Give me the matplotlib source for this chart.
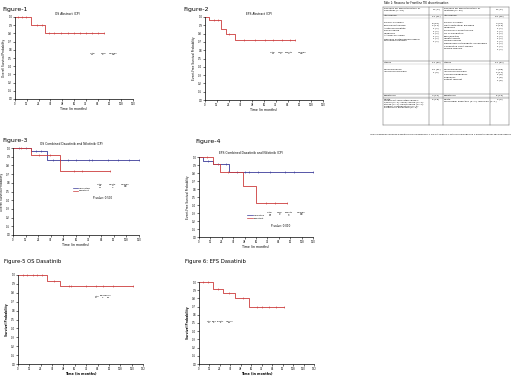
import matplotlib
matplotlib.use("Agg")
import matplotlib.pyplot as plt

W, H = 520, 377
RED = "#cc3a3a"
BLUE = "#3a3a99"

# Kaplan-Meier steps: (drop times, survival after each drop), end of follow-up, censor times
fig1_t = [0, 16, 31]
fig1_s = [1.0, 0.9, 0.8]
fig1_end = 91
fig1_cens = [3, 7, 11, 22, 27, 35, 40, 47, 54, 60, 66, 72, 78, 84, 91]

fig2_t = [0, 4, 16, 21, 31]
fig2_s = [1.0, 0.96, 0.86, 0.80, 0.72]
fig2_end = 92
fig2_cens = [9, 13, 24, 40, 51, 61, 69, 78, 86, 92]

fig3_unrel_t = [0, 17, 32]
fig3_unrel_s = [1.0, 0.97, 0.866]
fig3_unrel_end = 120
fig3_unrel_cens = [6, 12, 22, 27, 38, 45, 52, 60, 72, 75, 90, 100, 110, 120]
fig3_res_t = [0, 17, 45]
fig3_res_s = [1.0, 0.92, 0.735]
fig3_res_end = 92
fig3_res_cens = [8, 25, 35, 58, 66, 92]

fig4_unrel_t = [0, 4, 15, 32]
fig4_unrel_s = [1.0, 0.945, 0.91, 0.81]
fig4_unrel_end = 120
fig4_unrel_cens = [9, 20, 28, 40, 48, 53, 62, 75, 90, 100, 120]
fig4_res_t = [0, 15, 22, 46, 60]
fig4_res_s = [1.0, 0.91, 0.81, 0.64, 0.43]
fig4_res_end = 93
fig4_res_cens = [8, 30, 70, 80, 93]

fig5_t = [0, 31, 44]
fig5_s = [1.0, 0.937, 0.877]
fig5_end = 121
fig5_cens = [5, 10, 16, 20, 25, 38, 54, 56, 72, 82, 90, 100, 121]

fig6_t = [0, 16, 28, 41, 57]
fig6_s = [1.0, 0.92, 0.866, 0.805, 0.69]
fig6_end = 97
fig6_cens = [5, 10, 22, 35, 50, 66, 72, 80, 88, 97]

# Table 1 content
tab_title = "Table 1: Reasons for Frontline TKI discontinuation"
tab_head = ["Reasons for discontinuation of\ndasatinib (n=34)", "N (%)",
            "Reasons for discontinuation of\nnilotinib (n=33)", "N (%)"]
das_intol = ("Intolerance", "14 (41)")
das_intol_items = ["Pleural effusion*", "Thrombocytopenia", "Acute pancreatitis", "Renal failure",
                   "Headache", "Arterial occlusion", "Nervous System/Neurological", "Pericardial effusion"]
das_intol_vals = ["8 (57)", "2 (14)", "1 (7)", "1 (7)", "1 (7)", "1 (7)", "1 (7)", "1 (7)"]
nil_intol = ("Intolerance", "15 (45)")
nil_intol_items = ["Pleural effusion", "Gastrointestinal bleeding", "Headache", "Pulmonary hypertension",
                   "QT prolongation", "Rash/pruritus", "Hepatotoxicity", "Hyperglycemia",
                   "Depression of thoughts, unspecified", "Congestive heart failure", "Muscle spasms"]
nil_intol_vals = ["4 (27)", "2 (13)", "1 (7)", "1 (7)", "1 (7)", "1 (7)", "1 (7)", "1 (7)",
                  "1 (7)", "1 (7)", "1 (7)"]
das_other = ("Others", "11 (32)")
das_other_items = ["Noncompliance", "Insurance problem"]
das_other_vals = ["10 (91)", "1 (9)"]
nil_other = ("Others", "12 (37)")
nil_other_items = ["Noncompliance", "Insurance problem", "Second malignancy", "Pregnancy", "Patient request"]
nil_other_vals = ["7 (58)", "2 (17)", "1 (8)", "1 (8)", "1 (8)"]
das_resist = ("Resistance", "4 (12)")
nil_resist = ("Resistance", "5 (15)")
das_death = ("Death\nTreatment unrelated causes:\nSepsis (n=1), renal failure (n=1),\nstroke (n=1), heart failure (n=1),\nsurgical complications (n=1),\npulmonary embolism (n=1)", "6 (18)")
nil_death = ("Death\nMyocardial infarction (n=1), unknown (n=1)", "2 (6)")
tab_note = "*Pleural effusion includes 8 dasatinib pleural effusions, 1 did not relapse, 1 with re-challenge and 1 discontinued for adverse reasons"

fig = plt.figure(figsize=(W / 100, H / 100), dpi=100)


def add_ax(l, t, r, b):
    return fig.add_axes([l / W, 1 - b / H, (r - l) / W, (b - t) / H])


def style(ax, xmax, ylabel, bold=False):
    ax.set_xlim(0, xmax)
    ax.set_ylim(0, 1.0)
    ax.set_xticks(range(0, xmax + 1, 12))
    ax.set_yticks([i / 10 for i in range(11)])
    ax.set_yticklabels([f"{i / 10:.1f}" for i in range(11)])
    for s in ["top", "right"]:
        ax.spines[s].set_visible(False)
    for s in ["left", "bottom"]:
        ax.spines[s].set_linewidth(0.5)
    ax.tick_params(labelsize=1.8, length=1.2, width=0.4, pad=0.8)
    w = "bold" if bold else "normal"
    ax.set_xlabel("Time (in months)", fontsize=2.3, labelpad=1, fontweight=w)
    ax.set_ylabel(ylabel, fontsize=2.1, labelpad=1.5, fontweight=w)


def km(ax, t, s, end, cens, color):
    ax.step(t + [end], s + [s[-1]], where="post", color=color, lw=0.6, clip_on=False)
    cy = []
    for c in cens:
        v = s[0]
        for ti, si in zip(t, s):
            if c >= ti:
                v = si
        cy.append(v)
    ax.plot(cens, cy, ls="none", marker="|", ms=1.6, mew=0.4, color=color, clip_on=False)


def stats(ax, xs, y, cols, fs=1.7):
    for x, (h, v) in zip(xs, cols):
        ax.text(x, y, h + "\n" + v, fontsize=fs, ha="center", va="top", linespacing=1.1)


# Figure 1
fig.text(2 / W, 1 - 9 / H, "Figure-1", fontsize=4.5, va="center")
ax1 = add_ax(15, 17, 133, 99)
style(ax1, 120, "Overall Survival Probability")
km(ax1, fig1_t, fig1_s, fig1_end, fig1_cens, RED)
ax1.text(53, 1.03, "OS Abstract (CP)", fontsize=2.2, ha="center")
stats(ax1, [79, 89.5, 100], 0.56, [("Total", "11"), ("Died", "2"), ("Median", "NR")])

# Figure 2
fig.text(183 / W, 1 - 9 / H, "Figure-2", fontsize=4.5, va="center")
ax2 = add_ax(205, 17, 323, 100)
style(ax2, 120, "Event-Free Survival Probability")
km(ax2, fig2_t, fig2_s, fig2_end, fig2_cens, RED)
ax2.text(55, 1.03, "EFS Abstract (CP)", fontsize=2.2, ha="center")
stats(ax2, [69, 76.5, 85, 98.5], 0.58, [("Total", "11"), ("Died", "2"), ("Events", "3"), ("Median", "NR")])

# Figure 3
fig.text(2 / W, 1 - 140 / H, "Figure-3", fontsize=4.5, va="center")
ax3 = add_ax(13, 148, 139, 235)
style(ax3, 120, "Overall Survival Probability")
km(ax3, fig3_unrel_t, fig3_unrel_s, fig3_unrel_end, fig3_unrel_cens, BLUE)
km(ax3, fig3_res_t, fig3_res_s, fig3_res_end, fig3_res_cens, RED)
ax3.text(56, 1.04, "OS Combined Dasatinib and Nilotinib (CP)", fontsize=2.2, ha="center")
ax3.plot([57, 62], [0.54, 0.54], color=BLUE, lw=0.5)
ax3.plot([57, 62], [0.51, 0.51], color=RED, lw=0.5)
ax3.text(63, 0.54, "Unrelated", fontsize=1.7, va="center")
ax3.text(63, 0.51, "Resistant", fontsize=1.7, va="center")
stats(ax3, [83, 95, 107], 0.585, [("Total", "42\n14"), ("Death", "3\n2"), ("Median", "NR\nNR")])
ax3.text(85, 0.41, "P-value: 0.500", fontsize=2.0, ha="center")

# Figure 4
fig.text(195 / W, 1 - 141 / H, "Figure-4", fontsize=4.5, va="center")
ax4 = add_ax(199, 157, 313, 237)
style(ax4, 120, "Event-Free Survival Probability")
km(ax4, fig4_unrel_t, fig4_unrel_s, fig4_unrel_end, fig4_unrel_cens, BLUE)
km(ax4, fig4_res_t, fig4_res_s, fig4_res_end, fig4_res_cens, RED)
ax4.text(55, 1.04, "EFS Combined Dasatinib and Nilotinib (CP)", fontsize=2.2, ha="center")
ax4.plot([51, 57], [0.27, 0.27], color=BLUE, lw=0.5)
ax4.plot([51, 57], [0.235, 0.235], color=RED, lw=0.5)
ax4.text(58, 0.27, "Unrelated", fontsize=1.6, va="center")
ax4.text(58, 0.235, "Resistant", fontsize=1.6, va="center")
stats(ax4, [75, 85, 94, 108], 0.31, [("Total", "42\n14"), ("Died", "3\n2"), ("Events", "6\n4"), ("Median", "NR\nNR")])
ax4.text(86, 0.13, "P-value: 0.010", fontsize=2.0, ha="center")

# Figure 5
fig.text(4 / W, 1 - 261 / H, "Figure-5 OS Dasatinib", fontsize=3.8, va="center")
ax5 = add_ax(18, 275, 143, 364)
style(ax5, 132, "Survival Probability", bold=True)
km(ax5, fig5_t, fig5_s, fig5_end, fig5_cens, RED)
stats(ax5, [83, 89, 95], 0.77, [("Total", "27"), ("Died", "3"), ("Median", "NR")], fs=1.5)

# Figure 6
fig.text(185 / W, 1 - 261 / H, "Figure 6: EFS Dasatinib", fontsize=3.8, va="center")
ax6 = add_ax(199, 282, 314, 364)
style(ax6, 132, "Survival Probability", bold=True)
km(ax6, fig6_t, fig6_s, fig6_end, fig6_cens, RED)
stats(ax6, [11.5, 17, 25, 35], 0.53, [("Total", "27"), ("Died", "3"), ("Events", "5"), ("Median", "NR")], fs=1.5)

# Table 1, drawn in pixel coordinates on an overlay
tx = fig.add_axes([0, 0, 1, 1])
tx.set_xlim(0, W)
tx.set_ylim(H, 0)
tx.axis("off")
xl, xa, xb, xc, xr = 383, 429, 443, 490, 509
yt, yh, yo, yr, yd, yb = 7, 14.5, 61, 94, 98, 125
lk = dict(color="#666666", lw=0.35)
for y in [yt, yh, yo, yr, yd, yb]:
    tx.plot([xl, xr], [y, y], **lk)
for y in [17.5, 63.5, 96.5]:
    tx.plot([xl, xr], [y, y], color="#aaaaaa", lw=0.25)
for x in [xl, xa, xb, xc, xr]:
    tx.plot([x, x], [yt, yb], **lk)
fs = 1.7
tx.text(xl, 3, tab_title, fontsize=1.9, va="center")
tx.text(xl + 1, 8, tab_head[0], fontsize=fs, va="top", linespacing=1.1)
tx.text((xa + xb) / 2, 8, tab_head[1], fontsize=fs, va="top", ha="center")
tx.text(xb + 1, 8, tab_head[2], fontsize=fs, va="top", linespacing=1.1)
tx.text((xc + xr) / 2, 8, tab_head[3], fontsize=fs, va="top", ha="center")


def section(x_lab, x_val, y0, head, items, vals):
    tx.text(x_lab, y0, head[0], fontsize=fs, va="top", linespacing=1.1)
    tx.text(x_val, y0, head[1], fontsize=fs, va="top", ha="center")
    for i, (it, v) in enumerate(zip(items, vals)):
        tx.text(x_lab, y0 + 7 + i * 2.6, it, fontsize=fs, va="top")
        tx.text(x_val, y0 + 7 + i * 2.6, v, fontsize=fs, va="top", ha="center")


section(xl + 1, (xa + xb) / 2, 15.2, das_intol, das_intol_items, das_intol_vals)
section(xb + 1, (xc + xr) / 2, 15.2, nil_intol, nil_intol_items, nil_intol_vals)
section(xl + 1, (xa + xb) / 2, 61.7, das_other, das_other_items, das_other_vals)
section(xb + 1, (xc + xr) / 2, 61.7, nil_other, nil_other_items, nil_other_vals)
section(xl + 1, (xa + xb) / 2, 94.7, das_resist, [], [])
section(xb + 1, (xc + xr) / 2, 94.7, nil_resist, [], [])
section(xl + 1, (xa + xb) / 2, 98.8, das_death, [], [])
section(xb + 1, (xc + xr) / 2, 98.8, nil_death, [], [])
tx.text(370, 134, tab_note, fontsize=1.5, va="center")

fig.savefig("out.png", dpi=100)
